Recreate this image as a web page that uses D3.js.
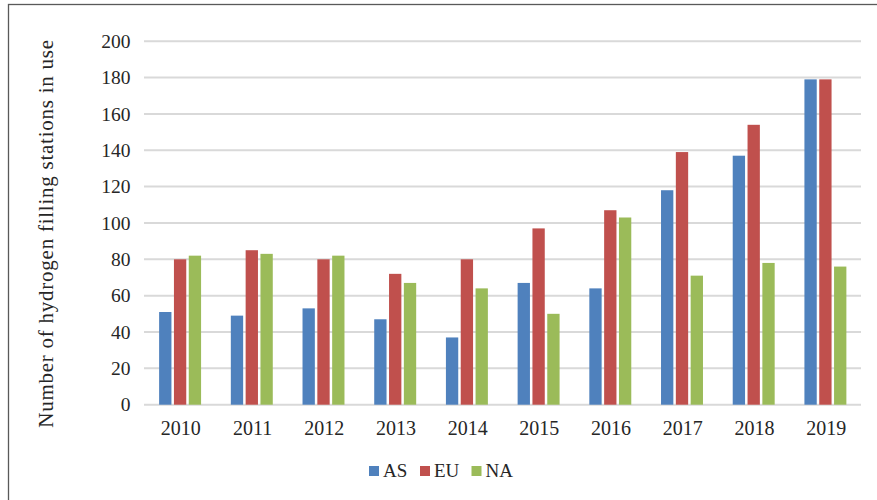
<!DOCTYPE html>
<html>
<head>
<meta charset="utf-8">
<script src="https://cdn.jsdelivr.net/npm/d3@7"></script>
<style>
  body { margin: 0; background: #fff; }
  svg { display: block; font-family: "Liberation Serif", "DejaVu Serif", serif; }
</style>
</head>
<body>
<svg id="chart" width="877" height="500"></svg>
<script>
  const years = ["2010", "2011", "2012", "2013", "2014", "2015", "2016", "2017", "2018", "2019"];
  const seriesNames = ["AS", "EU", "NA"];
  const asValues = [51, 49, 53, 47, 37, 67, 64, 118, 137, 179];
  const euValues = [80, 85, 80, 72, 80, 97, 107, 139, 154, 179];
  const naValues = [82, 83, 82, 67, 64, 50, 103, 71, 78, 76];
  const yTicks = [0, 20, 40, 60, 80, 100, 120, 140, 160, 180, 200];
  const colors = ["#4F81BD", "#C0504D", "#9BBB59"];

  const seriesValues = [asValues, euValues, naValues];
  const rows = years.map((y, i) => ({ year: y, values: seriesValues.map(s => s[i]) }));

  const svg = d3.select("#chart");
  const plotLeft = 144, plotRight = 861, plotTop = 41.2, plotBottom = 404.7;

  // outer frame, cut off at right and bottom
  svg.append("rect")
    .attr("x", 8.5).attr("y", 4.5)
    .attr("width", 1000).attr("height", 1000)
    .attr("fill", "none")
    .attr("stroke", "#595959")
    .attr("stroke-width", 1.3);

  const x = d3.scaleBand().domain(years).range([plotLeft + 1, plotRight + 1]).paddingInner(0.38).paddingOuter(0.19);
  const xs = d3.scaleBand().domain(seriesNames).range([0, x.bandwidth()]);
  const y = d3.scaleLinear().domain([0, 200]).range([plotBottom, plotTop]);

  // gridlines
  svg.append("g")
    .selectAll("line")
    .data(yTicks)
    .join("line")
    .attr("x1", plotLeft).attr("x2", plotRight)
    .attr("y1", d => y(d)).attr("y2", d => y(d))
    .attr("stroke", "#D9D9D9")
    .attr("stroke-width", 2);

  // y tick labels
  const yAxis = svg.append("g")
    .attr("transform", `translate(${plotLeft},0)`)
    .call(d3.axisLeft(y).tickValues(yTicks).tickSize(0).tickPadding(13.5));
  yAxis.select(".domain").remove();
  yAxis.selectAll("text")
    .attr("font-family", "Liberation Serif")
    .attr("font-size", 19.5)
    .attr("fill", "#262626");

  // x labels
  const xAxis = svg.append("g")
    .attr("transform", `translate(0,${plotBottom})`)
    .call(d3.axisBottom(x).tickSize(0).tickPadding(16));
  xAxis.select(".domain").remove();
  xAxis.selectAll("text")
    .attr("font-family", "Liberation Serif")
    .attr("font-size", 20)
    .attr("fill", "#262626");

  // bars
  const groups = svg.append("g")
    .selectAll("g")
    .data(rows)
    .join("g")
    .attr("transform", d => `translate(${x(d.year)},0)`);

  groups.selectAll("rect")
    .data(d => d.values.map((v, i) => ({ name: seriesNames[i], value: v, color: colors[i] })))
    .join("rect")
    .attr("x", d => xs(d.name) + 0.5)
    .attr("width", xs.bandwidth() - 2.5)
    .attr("y", d => y(d.value))
    .attr("height", d => y(0) - y(d.value))
    .attr("fill", d => d.color);

  // y title
  svg.append("text")
    .attr("transform", `translate(52.5,233.5) rotate(-90)`)
    .attr("text-anchor", "middle")
    .attr("font-size", 21)
    .attr("letter-spacing", 0.75)
    .attr("fill", "#262626")
    .text("Number of hydrogen filling stations in use");

  // legend
  const legendX = [369, 420, 471.5];
  const legend = svg.append("g")
    .selectAll("g")
    .data(seriesNames)
    .join("g")
    .attr("transform", (d, i) => `translate(${legendX[i]},466)`);
  legend.append("rect")
    .attr("width", 10).attr("height", 10)
    .attr("fill", (d, i) => colors[i]);
  legend.append("text")
    .attr("x", 14).attr("y", 10.5)
    .attr("font-size", 19)
    .attr("fill", "#262626")
    .text(d => d);
</script>
</body>
</html>
